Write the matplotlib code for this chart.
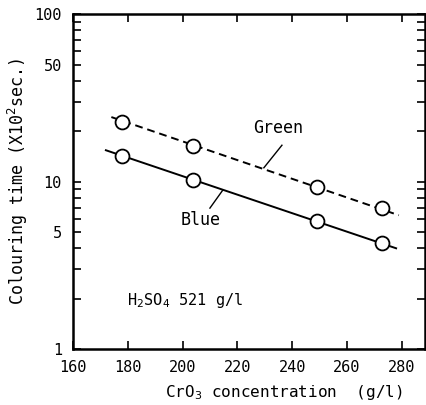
import matplotlib.pyplot as plt
from matplotlib.ticker import LogLocator, FixedLocator, FixedFormatter, NullFormatter

# CrO3 concentration (g/l) and colouring time (x10^2 sec)
cro3 = [178, 204, 249, 273]
green_time = [22.6, 16.3, 9.3, 6.95]
blue_time = [14.2, 10.2, 5.8, 4.3]

# end points of the fitted lines
green_fit_x = [174, 279]
green_fit_y = [24.3, 6.3]
blue_fit_x = [172, 278]
blue_fit_y = [15.4, 4.0]

x_ticks = [160, 180, 200, 220, 240, 260, 280]
y_ticks = [1, 5, 10, 50, 100]

plt.rcParams['font.family'] = 'DejaVu Sans Mono'

fig = plt.figure(figsize=(4.27, 4.05), dpi=100)
ax = fig.add_axes([0.171, 0.138, 0.824, 0.827])

ax.plot(green_fit_x, green_fit_y, color='black', linestyle=(0, (4, 2.5)), linewidth=1.4)
ax.plot(blue_fit_x, blue_fit_y, color='black', linestyle='-', linewidth=1.4)
ax.plot(cro3, green_time, 'o', markersize=10, markerfacecolor='white',
        markeredgecolor='black', markeredgewidth=1.3)
ax.plot(cro3, blue_time, 'o', markersize=10, markerfacecolor='white',
        markeredgecolor='black', markeredgewidth=1.3)

ax.set_yscale('log')
ax.set_xlim(160, 288.5)
ax.set_ylim(1, 100)
ax.xaxis.set_major_locator(FixedLocator(x_ticks))
ax.yaxis.set_major_locator(FixedLocator(y_ticks))
ax.yaxis.set_major_formatter(FixedFormatter([str(v) for v in y_ticks]))
ax.yaxis.set_minor_locator(LogLocator(base=10, subs=[2, 3, 4, 6, 7, 8, 9]))
ax.yaxis.set_minor_formatter(NullFormatter())

ax.tick_params(which='both', direction='in', top=True, right=True, width=1.2)
ax.tick_params(which='major', length=6, labelsize=11, pad=8)
ax.tick_params(which='minor', length=6)
for s in ax.spines.values():
    s.set_linewidth(1.8)

# curve labels with leader lines
ax.text(225.7, 20.9, 'Green', fontsize=12, ha='left', va='center')
ax.plot([236.3, 229.7], [16.5, 12.1], color='black', linewidth=1)
ax.text(206.7, 5.9, 'Blue', fontsize=12, ha='center', va='center')
ax.plot([210.0, 214.7], [6.95, 8.9], color='black', linewidth=1)

ax.text(179.7, 1.96, 'H$_2$SO$_4$ 521 g/l', fontsize=11, ha='left', va='center')

ax.set_xlabel('CrO$_3$ concentration  (g/l)', fontsize=11.5, va='center')
ax.xaxis.set_label_coords(0.6, -0.131)
ax.set_ylabel('Colouring time (X10$^2$sec.)', fontsize=12, va='center')
ax.yaxis.set_label_coords(-0.157, 0.5)

fig.savefig('out.png', dpi=100)
